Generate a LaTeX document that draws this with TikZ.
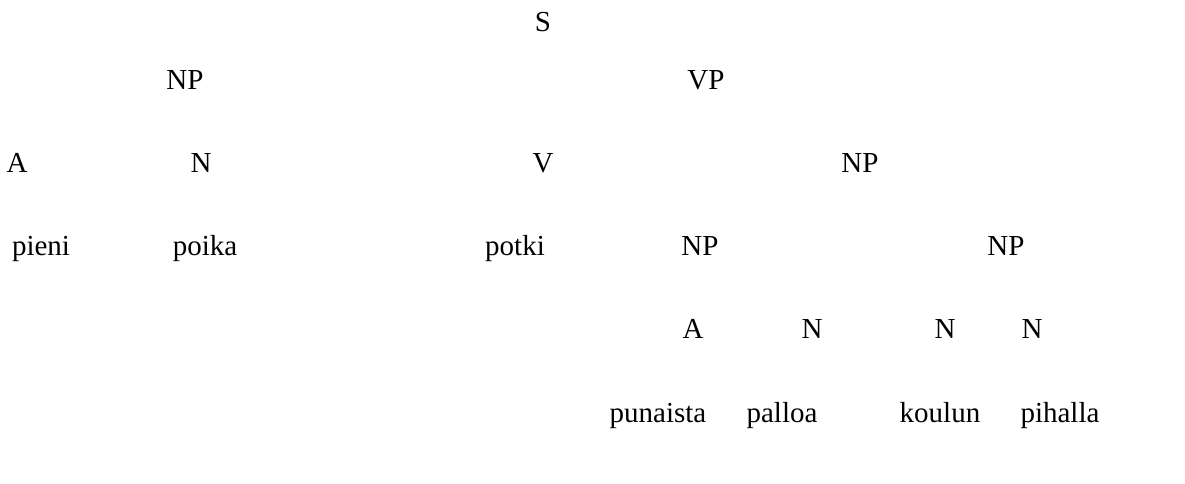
\documentclass[tikz,border=0pt]{standalone}
\usepackage{fontspec}
\setmainfont{Liberation Serif}
\begin{document}
\begin{tikzpicture}[x=1pt,y=-1pt,
  lbl/.style={anchor=base,inner sep=0pt,font=\fontsize{29}{34}\selectfont}]
\useasboundingbox (0,0) rectangle (1185,484);
\node[lbl] (s) at (543,32) {S};
\node[lbl] (np1) at (185,90) {NP};
\node[lbl] (vp) at (706,90) {VP};
\node[lbl] (a1) at (17,172) {A};
\node[lbl] (n1) at (201,172) {N};
\node[lbl] (v) at (543,172) {V};
\node[lbl] (np2) at (860,172) {NP};
\node[lbl] (w1) at (41,255) {pieni};
\node[lbl] (w2) at (205,255) {poika};
\node[lbl] (w3) at (515,255) {potki};
\node[lbl] (np3) at (700,255) {NP};
\node[lbl] (np4) at (1006,255) {NP};
\node[lbl] (a2) at (693,338) {A};
\node[lbl] (n2) at (812,338) {N};
\node[lbl] (n3) at (945,338) {N};
\node[lbl] (n4) at (1032,338) {N};
\node[lbl] (w4) at (658,422) {punaista};
\node[lbl] (w5) at (782,422) {palloa};
\node[lbl] (w6) at (940,422) {koulun};
\node[lbl] (w7) at (1060,422) {pihalla};
\end{tikzpicture}
\end{document}
